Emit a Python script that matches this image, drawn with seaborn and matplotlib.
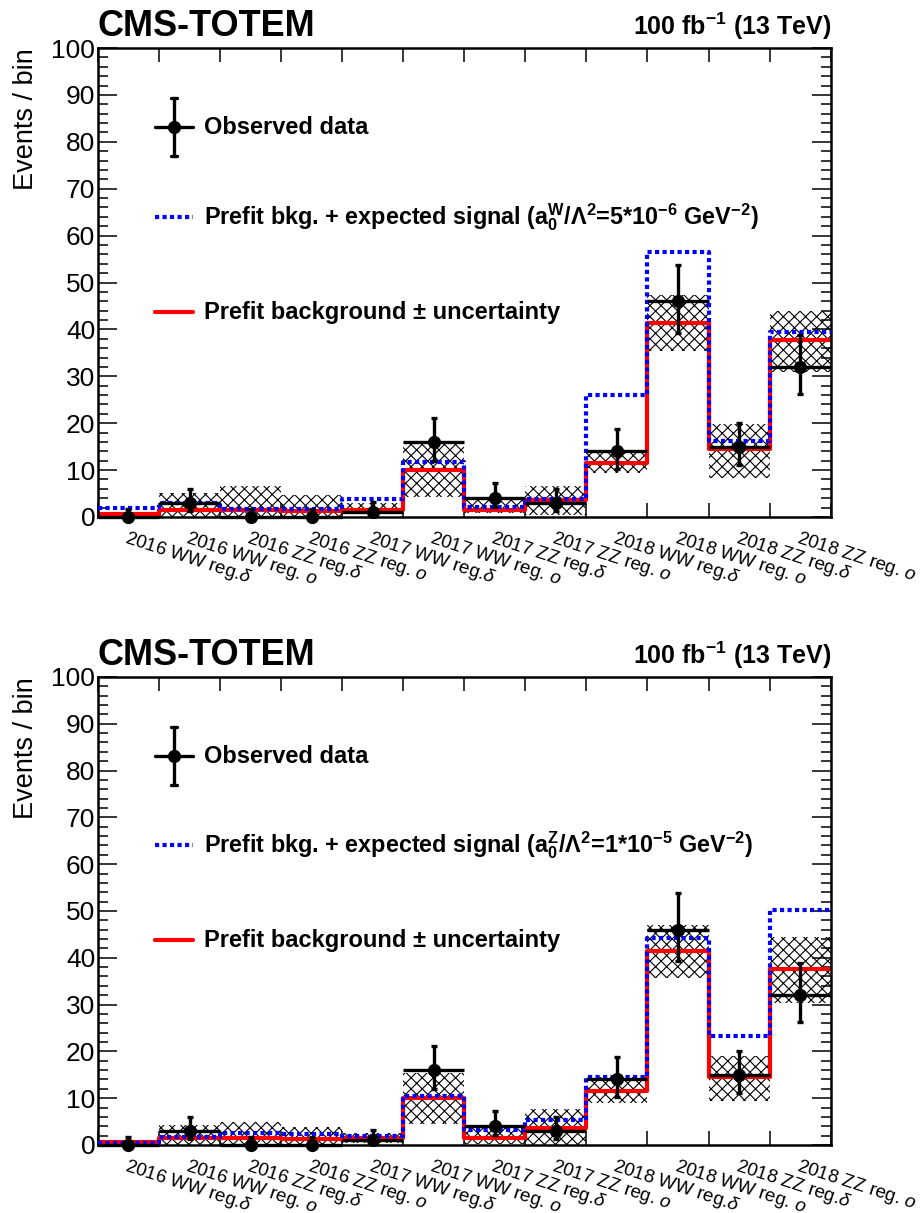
import numpy as np
import pandas as pd
import matplotlib
matplotlib.use("Agg")
import matplotlib.pyplot as plt
from matplotlib.lines import Line2D
from matplotlib.ticker import MultipleLocator, FixedLocator
import seaborn as sns

# ---------------- data ----------------
categories = ["2016 WW reg.$\\delta$", "2016 WW reg. $o$", "2016 ZZ reg.$\\delta$", "2016 ZZ reg. $o$",
              "2017 WW reg.$\\delta$", "2017 WW reg. $o$", "2017 ZZ reg.$\\delta$", "2017 ZZ reg. $o$",
              "2018 WW reg.$\\delta$", "2018 WW reg. $o$", "2018 ZZ reg.$\\delta$", "2018 ZZ reg. $o$"]

observed = [0, 3, 0, 0, 1, 16, 4, 3, 14, 46, 15, 32]
obs_lo = [0, 1.3, 0, 0, 0.2, 11.9, 2.1, 1.3, 10.2, 39.3, 11.0, 26.3]
obs_hi = [1.8, 5.9, 1.8, 1.8, 3.3, 21.2, 7.2, 5.9, 18.8, 53.8, 20.0, 38.8]

background = [0.6, 1.4, 1.4, 1.3, 1.5, 10.1, 1.5, 3.7, 11.6, 41.4, 14.5, 37.7]

# top panel (a0W)
signal_top = [2.0, 3.0, 1.7, 1.6, 3.8, 11.8, 2.1, 3.9, 26.1, 56.5, 16.1, 39.5]
unc_lo_top = [0.2, 0.0, 0.0, 0.0, 0.6, 4.3, 0.9, 0.4, 9.3, 35.3, 8.4, 31.0]
unc_hi_top = [1.0, 5.2, 6.5, 4.6, 3.0, 15.7, 4.3, 6.6, 13.6, 47.3, 19.8, 43.9]

# bottom panel (a0Z)
signal_bot = [0.5, 1.6, 2.5, 2.3, 2.0, 10.4, 3.1, 5.4, 14.5, 44.3, 23.2, 50.2]
unc_lo_bot = [0.2, 0.0, 0.0, 0.0, 0.5, 4.4, 0.3, 0.0, 9.0, 35.7, 9.4, 30.4]
unc_hi_bot = [0.9, 4.3, 5.0, 3.8, 2.5, 15.4, 4.0, 7.6, 14.5, 47.1, 19.0, 44.5]

sig_labels = [r"Prefit bkg. + expected signal (a$_{\mathbf{0}}^{\mathbf{W}}$/Λ$^{\mathbf{2}}$=5*10$^{\mathbf{-6}}$ GeV$^{\mathbf{-2}}$)",
              r"Prefit bkg. + expected signal (a$_{\mathbf{0}}^{\mathbf{Z}}$/Λ$^{\mathbf{2}}$=1*10$^{\mathbf{-5}}$ GeV$^{\mathbf{-2}}$)"]

# ---------------- style ----------------
sns.set_theme(style="ticks")
plt.rcParams["font.family"] = ["Liberation Sans", "DejaVu Sans"]
plt.rcParams["mathtext.fontset"] = "custom"
plt.rcParams["mathtext.rm"] = "Liberation Sans"
plt.rcParams["mathtext.it"] = "Liberation Sans:italic"
plt.rcParams["mathtext.bf"] = "Liberation Sans:bold"
plt.rcParams["hatch.linewidth"] = 0.8
plt.rcParams["text.color"] = "black"
plt.rcParams["axes.labelcolor"] = "black"
plt.rcParams["xtick.color"] = "black"
plt.rcParams["ytick.color"] = "black"

n = len(categories)
edges = np.arange(n + 1)
centers = edges[:-1] + 0.5

fig = plt.figure(figsize=(9.24, 12.13), dpi=100)
ax1 = fig.add_axes([0.106, 0.5738, 0.793, 0.3866])
ax2 = fig.add_axes([0.106, 0.0561, 0.793, 0.3858])

panels = [(ax1, signal_top, unc_lo_top, unc_hi_top, sig_labels[0]),
          (ax2, signal_bot, unc_lo_bot, unc_hi_bot, sig_labels[1])]

for ax, sig, ulo, uhi, slabel in panels:
    ulo = np.array(ulo); uhi = np.array(uhi)
    df = pd.DataFrame({"bin": centers, "bkg": background, "sig": sig})
    # uncertainty band
    ax.bar(centers, uhi - ulo, bottom=ulo, width=1.0, fill=False, hatch="xxx",
           edgecolor="black", linewidth=0, zorder=1)
    # background step
    sns.histplot(data=df, x="bin", weights="bkg", bins=list(edges), element="step", fill=False,
                 color="#ff0000", linewidth=3.0, ax=ax, zorder=2)
    # signal + bkg step
    sns.histplot(data=df, x="bin", weights="sig", bins=list(edges), element="step", fill=False,
                 color="#0000ff", linewidth=3.0, linestyle=(0, (1.0, 0.8)), ax=ax, zorder=3)
    # observed data
    obs = np.array(observed, dtype=float)
    ax.errorbar(centers, obs, xerr=0.5, fmt="none", ecolor="black", elinewidth=2.4,
                capsize=0, zorder=4, clip_on=False)
    ax.errorbar(centers, obs, yerr=[obs - np.array(obs_lo), np.array(obs_hi) - obs], fmt="o",
                color="black", ms=8.5, elinewidth=2.4, capsize=2.5, capthick=2.4, zorder=5,
                clip_on=False)

    ax.set_xlim(0, n)
    ax.set_ylim(0, 100)
    ax.set_xlabel("")
    ax.set_ylabel("Events / bin", fontsize=19.5, loc="top", labelpad=9)

    ax.set_xticks(centers)
    ax.set_xticklabels(categories, rotation=-18, ha="left", va="top",
                       rotation_mode="anchor", fontsize=13.5)
    ax.xaxis.set_minor_locator(FixedLocator(edges))
    ax.tick_params(axis="x", which="major", length=0, pad=8)
    ax.tick_params(axis="x", which="minor", direction="in", length=10, width=1.1,
                   top=True, bottom=True)
    ax.yaxis.set_major_locator(MultipleLocator(10))
    ax.yaxis.set_minor_locator(MultipleLocator(2))
    ax.tick_params(axis="y", which="major", direction="in", length=14, width=1.1,
                   left=True, right=True, labelsize=19, pad=2)
    ax.tick_params(axis="y", which="minor", direction="in", length=7, width=1.1,
                   left=True, right=True)
    for sp in ax.spines.values():
        sp.set_visible(True)
        sp.set_linewidth(1.8)
        sp.set_color("black")

    # header texts
    ax.text(0.0, 1.008, "CMS-TOTEM", transform=ax.transAxes, ha="left", va="bottom",
            fontsize=26, fontweight="bold")
    ax.text(1.0, 1.012, r"100 fb$^{\mathbf{-1}}$ (13 TeV)", transform=ax.transAxes,
            ha="right", va="bottom", fontsize=18, fontweight="bold")

    # legend (manual)
    tr = ax.transAxes
    x0, x1, xm, xt = 0.078, 0.130, 0.104, 0.145
    yo, yb, yr = 0.831, 0.640, 0.437
    ax.add_line(Line2D([x0, x1], [yo, yo], transform=tr, color="black", lw=2.4))
    ax.add_line(Line2D([xm, xm], [yo - 0.062, yo + 0.062], transform=tr, color="black", lw=2.4))
    ax.add_line(Line2D([xm - 0.004, xm + 0.004], [yo + 0.062, yo + 0.062], transform=tr,
                       color="black", lw=2.4))
    ax.add_line(Line2D([xm - 0.004, xm + 0.004], [yo - 0.062, yo - 0.062], transform=tr,
                       color="black", lw=2.4))
    ax.add_line(Line2D([xm], [yo], transform=tr, marker="o", ms=8.5, color="black", lw=0))
    ax.text(xt, yo, "Observed data", transform=tr, ha="left", va="center",
            fontsize=17, fontweight="bold")
    ax.add_line(Line2D([x0, x1], [yb, yb], transform=tr, color="#0000ff", lw=3.0,
                       linestyle=(0, (1.0, 0.8))))
    ax.text(xt, yb, slabel, transform=tr, ha="left", va="center",
            fontsize=16.8, fontweight="bold")
    ax.add_line(Line2D([x0, x1], [yr, yr], transform=tr, color="#ff0000", lw=3.0))
    ax.text(xt, yr, "Prefit background ± uncertainty", transform=tr, ha="left", va="center",
            fontsize=17, fontweight="bold")

fig.savefig("out.png", dpi=100)
